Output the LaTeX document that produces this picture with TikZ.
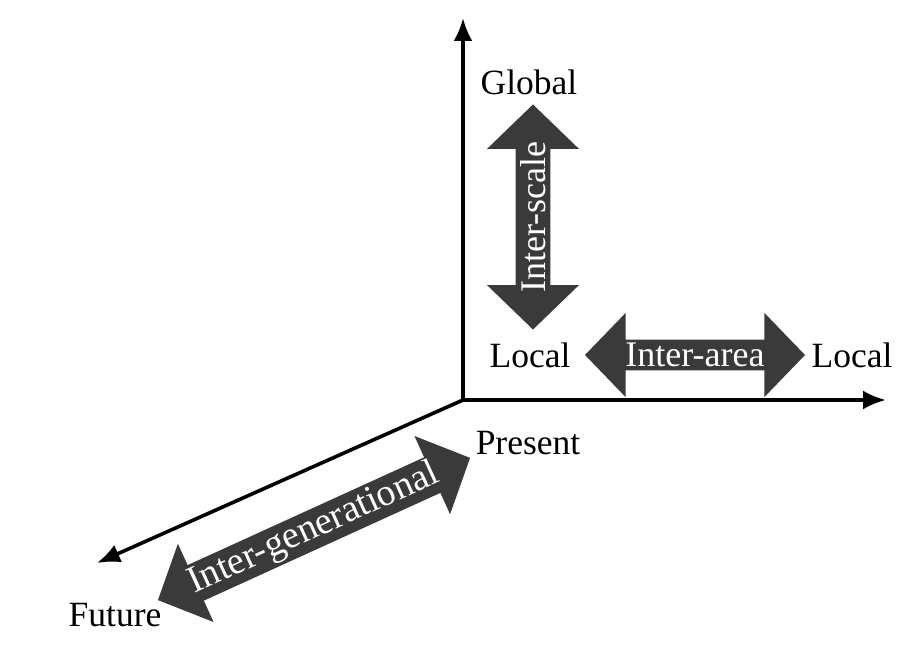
\documentclass[tikz,border=0pt]{standalone}
\usepackage{fontspec}
\setmainfont{Liberation Serif}
\usetikzlibrary{arrows.meta,shapes.arrows}
\definecolor{bandfill}{HTML}{3A3A3A}
\tikzset{
  axisline/.style={line width=3.6pt,-{Latex[length=23pt,width=19pt]}},
  axislabel/.style={font=\fontsize{35.5}{38}\selectfont,inner sep=0pt},
  band/.style={shape=double arrow,fill=bandfill,draw=none,text=white,
    double arrow head extend=21pt,double arrow tip angle=92,inner sep=0pt,
    font=\fontsize{36}{38}\selectfont},
}
\begin{document}
\begin{tikzpicture}[x=1pt,y=1pt]
\useasboundingbox[fill=white] (0,0) rectangle (913,651);
% axes
\coordinate (O) at (463,251);
\coordinate (top) at (463,633);
\coordinate (right) at (886,251);
\coordinate (front) at (97,88);
\draw[axisline] (O) -- (top);
\draw[axisline] (O) -- (right);
\draw[axisline] (O) -- (front);
% axis labels
\node[axislabel] (global) at (529,569) {Global};
\node[axislabel] (localL) at (530,296) {Local};
\node[axislabel] (localR) at (852,296) {Local};
\node[axislabel] (present) at (528,208) {Present};
\node[axislabel] (future) at (115,36) {Future};
% double-headed bands
\node[band,rotate=90,minimum height=225pt,minimum width=92pt] (scale) at (533,434) {Inter-scale};
\node[band,minimum height=220pt,minimum width=84pt] (area) at (695,296) {Inter-area};
\node[band,rotate=24.5,minimum height=343pt,minimum width=86pt,font=\fontsize{38}{40}\selectfont] (gen) at (314,122) {Inter-generational};
\end{tikzpicture}
\end{document}
